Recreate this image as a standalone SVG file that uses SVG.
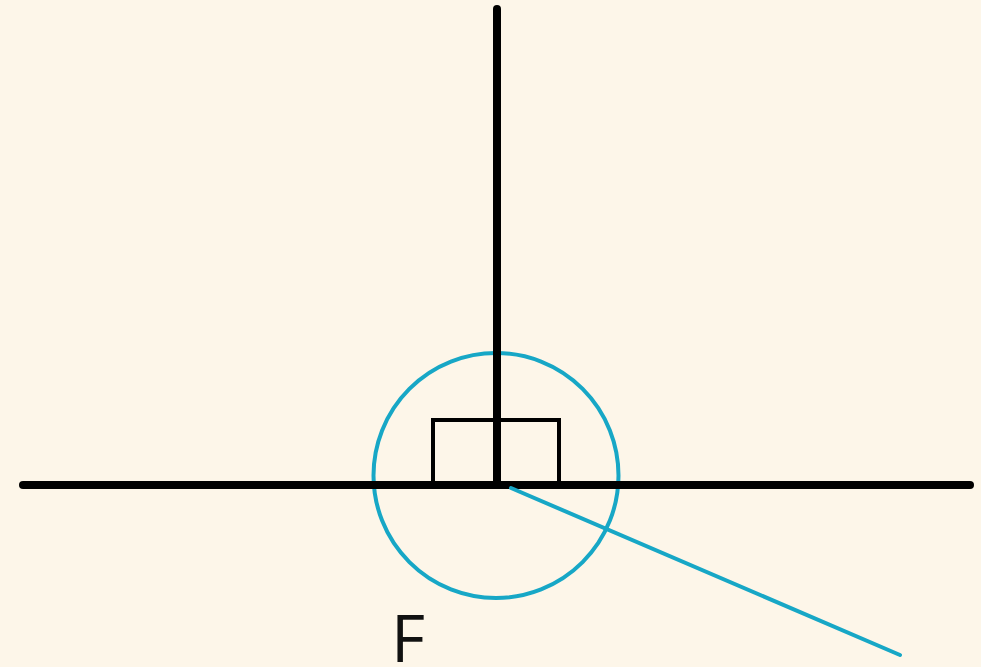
<svg xmlns="http://www.w3.org/2000/svg" width="981" height="667" viewBox="0 0 981 667">
<style>
.axis{stroke:#000;stroke-width:8;stroke-linecap:round;fill:none}
.sq{stroke:#000;stroke-width:4;fill:none}
.blue{stroke:#17a7c6;stroke-width:4;fill:none;stroke-linecap:round}
.lbl{font-family:"Open Sans","Noto Sans",sans-serif;font-size:66px;fill:#111}
</style>
<rect width="981" height="667" fill="#fdf6e9"/>
<g id="circle"><circle class="blue" cx="496" cy="475.5" r="122.5"/></g>
<g id="square"><polyline class="sq" points="433,485 433,420 559,420 559,485"/></g>
<g id="connectors">
<line class="axis" x1="23" y1="485" x2="970" y2="485"/>
<line class="axis" x1="497" y1="9" x2="497" y2="485"/>
<line class="blue" x1="511" y1="488" x2="900" y2="655"/>
</g>
<g id="label"><text class="lbl" x="391" y="662">F</text></g>
</svg>
